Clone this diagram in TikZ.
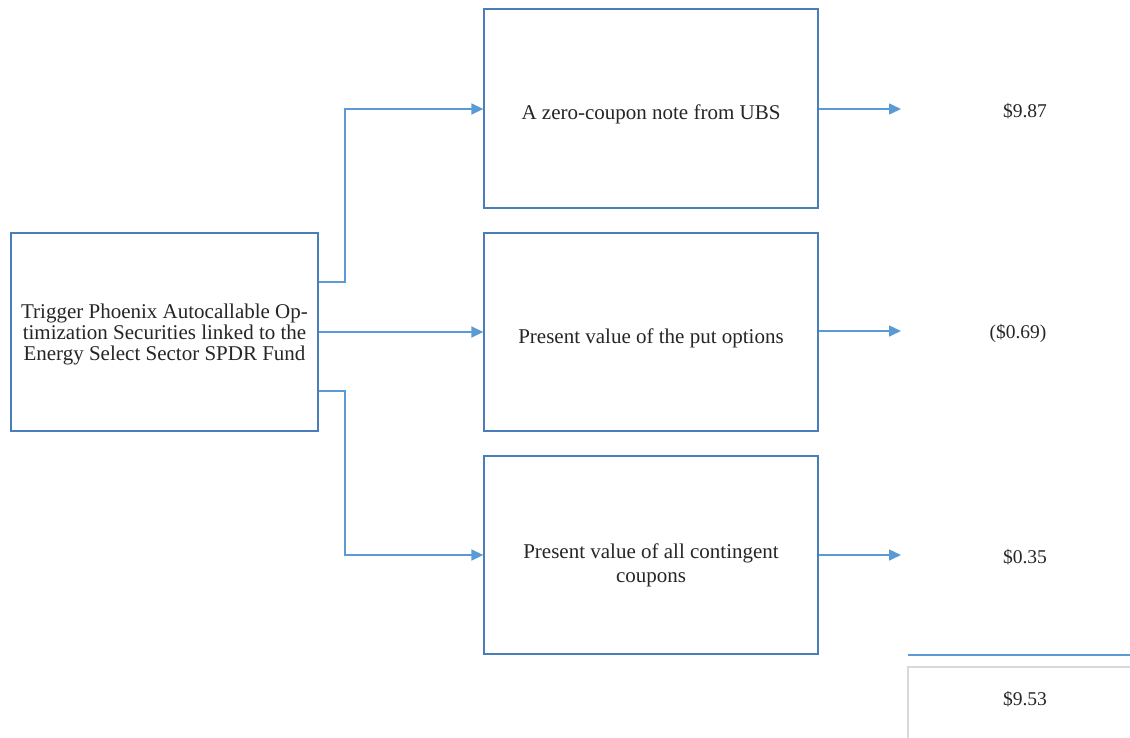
\documentclass[tikz,border=0pt]{standalone}
\usepackage{fontspec}
\setmainfont{Liberation Serif}
\usetikzlibrary{arrows.meta}
\definecolor{boxblue}{HTML}{4A7EBB}
\definecolor{linkblue}{HTML}{5B9BD5}
\definecolor{txt}{HTML}{262626}
\tikzset{
  box/.style={draw=boxblue, line width=1.3pt, fill=white},
  lab/.style={text=txt, align=center, font=\fontsize{21}{21}\selectfont},
  link/.style={draw=linkblue, line width=1.5pt, -{Triangle[length=12pt,width=11pt]}},
  val/.style={text=txt, font=\fontsize{19.5}{20}\selectfont}
}
\begin{document}
\begin{tikzpicture}[x=1pt,y=-1pt]
\useasboundingbox (0,0) rectangle (1130,737);
\path[fill=white] (0,0) rectangle (1130,737);
% boxes
\node[box, minimum width=307pt, minimum height=198pt] (src) at (164.5,332) {};
\node[box, minimum width=334pt, minimum height=199pt] (zc) at (651,108.5) {};
\node[box, minimum width=334pt, minimum height=198pt] (put) at (651,332) {};
\node[box, minimum width=334pt, minimum height=198pt] (cpn) at (651,555) {};
\node[lab] (srct) at (164.5,334) {Trigger Phoenix Autocallable Op-\\timization Securities linked to the\\Energy Select Sector SPDR Fund};
\node[lab] (zct) at (651,114) {A zero-coupon note from UBS};
\node[lab] (putt) at (651,338) {Present value of the put options};
\node[lab, font=\fontsize{21}{24}\selectfont] (cpnt) at (651,565) {Present value of all contingent\\coupons};
% values
\coordinate (v1) at (901,109);
\coordinate (v2) at (901,331);
\coordinate (v3) at (901,555);
\node[val] (l1) at (1025,111) {\$9.87};
\node[val] (l2) at (1018,334) {(\$0.69)};
\node[val] (l3) at (1025,557) {\$0.35};
% total
\draw[draw=linkblue, line width=1.8pt] (908,655) -- (1131,655);
\draw[draw=black!15, line width=1.2pt, fill=white] (908,740) -- (908,667) -- (1132,667);
\node[val] (tot) at (1025,699) {\$9.53};
% connectors
\coordinate (j1) at (345,282);
\coordinate (j2) at (345,109);
\coordinate (j3) at (345,391);
\coordinate (j4) at (345,555);
\draw[link] (src.east |- j1) -- (j1) -- (j2) -- (zc.west |- j2);
\draw[link] (src.east |- put.west) -- (put.west);
\draw[link] (src.east |- j3) -- (j3) -- (j4) -- (cpn.west |- j4);
\draw[link] (zc.east |- v1) -- (v1);
\draw[link] (put.east |- v2) -- (v2);
\draw[link] (cpn.east |- v3) -- (v3);
\end{tikzpicture}
\end{document}
